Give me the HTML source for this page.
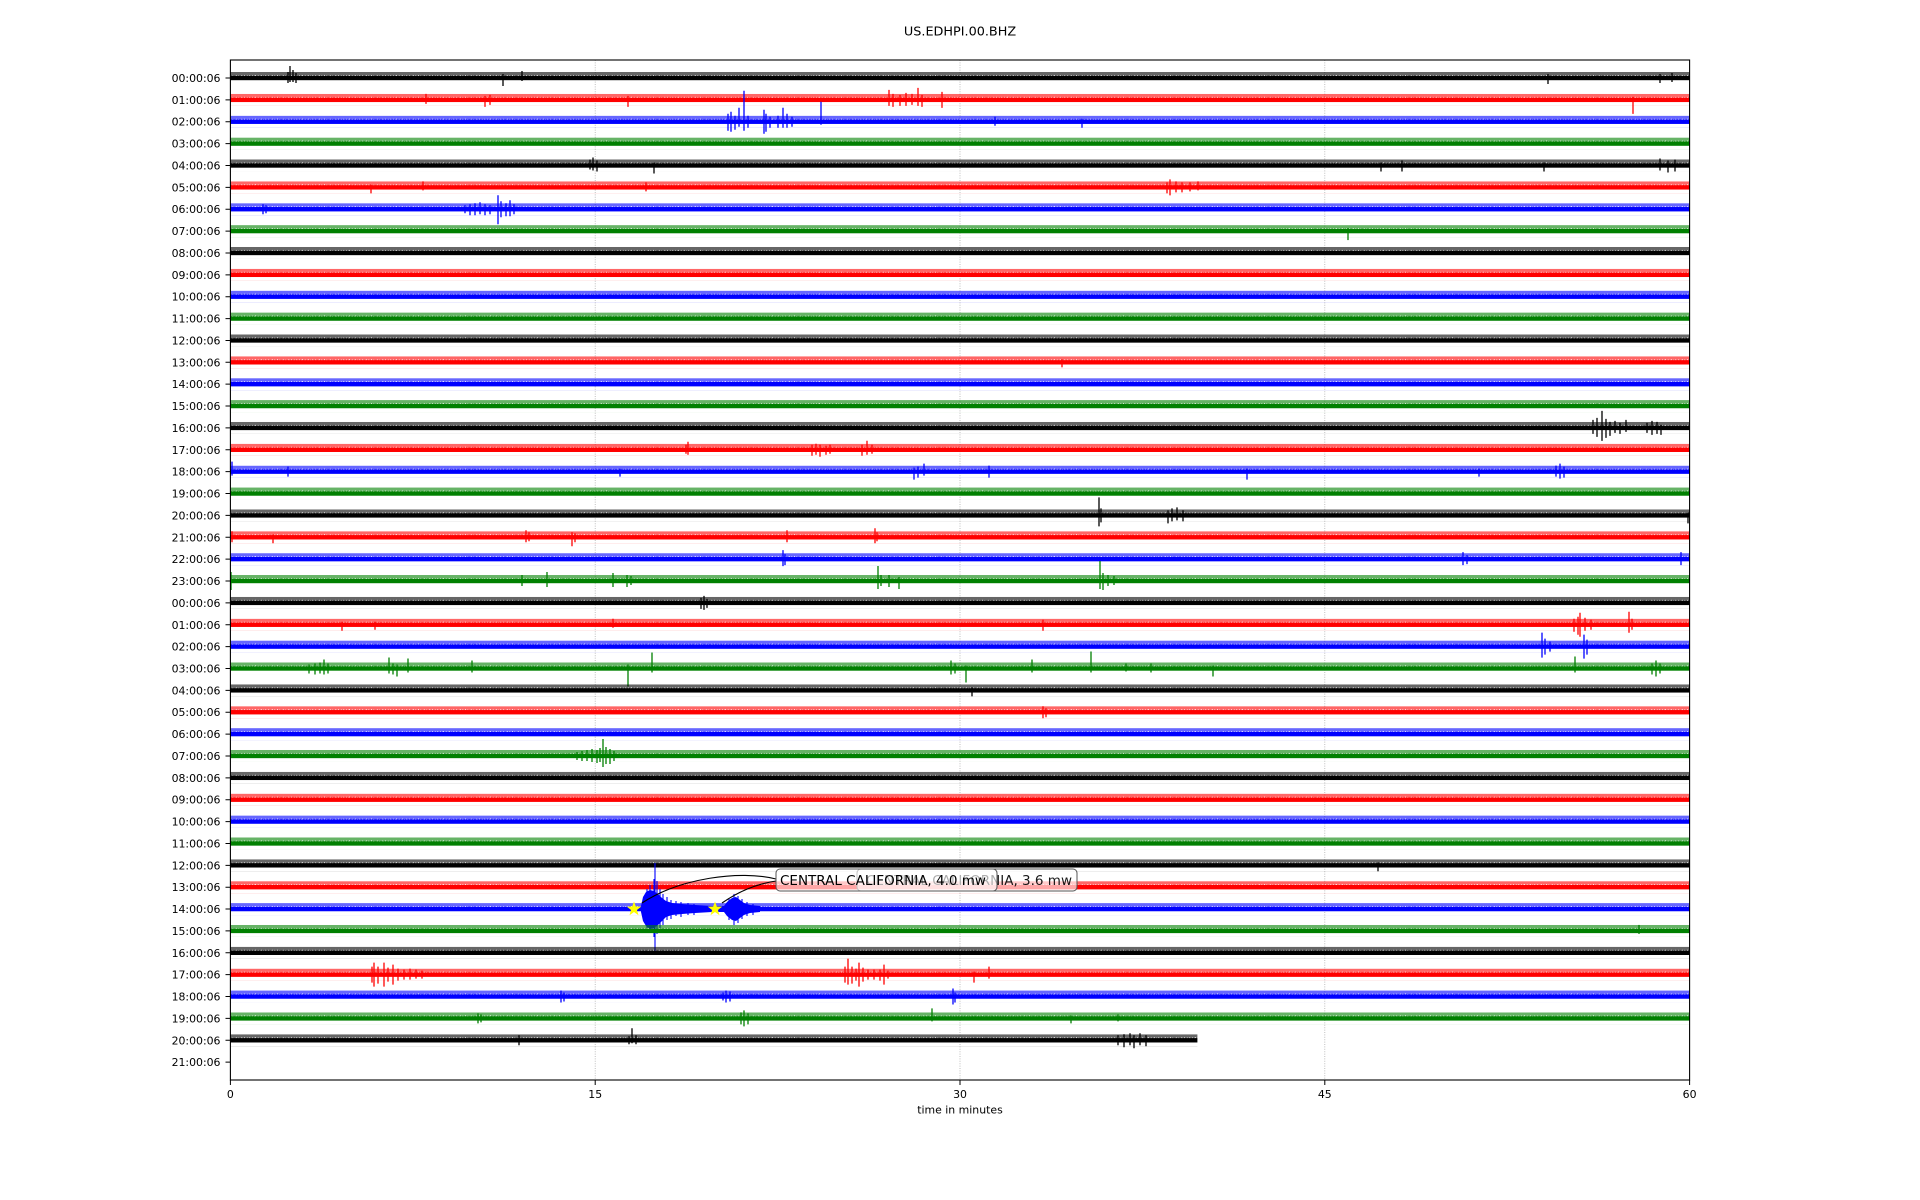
<!DOCTYPE html>
<html><head><meta charset="utf-8"><style>
html,body{margin:0;padding:0;background:#fff;}
svg{display:block;}
text{font-family:"DejaVu Sans","Liberation Sans",sans-serif;fill:#000;}
</style></head><body>
<svg width="1920" height="1200" viewBox="0 0 1920 1200" xmlns="http://www.w3.org/2000/svg">
<defs>
<g id="nz" fill="none" stroke-width="1" stroke-opacity="0.6"><path d="M0.5 -3.5V3.8M1.5 -4.2V3.2M2.5 -3.1V4.4M3.5 -4.8V3.5M4.5 -3.6V4M5.5 -3.3V4.7M6.5 -4.5V3.3M7.5 -3.9V3.6M8.5 -3.2V4.2M9.5 -5V3.1M10.5 -3.7V4.5M11.5 -3.4V3.9M12.5 -4.1V3.4M13.5 -3V4.8M14.5 -4.6V3.2M15.5 -3.8V3.7M16.5 -3.5V4.1M17.5 -4.3V3.3M18.5 -3.1V4.6M19.5 -3.9V3.5M20.5 -4.7V3M21.5 -3.3V4.3M22.5 -3.6V3.8M23.5 -4V3.4M24.5 -3.2V4.9M25.5 -4.4V3.6M26.5 -3.8V3.1M27.5 -3V4.2M28.5 -4.9V3.5M29.5 -3.5V4M30.5 -3.7V3.3M31.5 -4.2V3.7M32.5 -3.4V4.5M33.5 -3.9V3.2M34.5 -4.5V3.9M35.5 -3.1V4.4M36.5 -3.6V3.6M37.5 -4V3.1M38.5 -3.3V4.7M39.5 -4.8V3.4M40.5 -3.5V3.8M41.5 -3.8V4.2M42.5 -4.1V3M43.5 -3.2V4.1M44.5 -4.6V3.5M45.5 -3.7V3.9M46.5 -3.4V4.3"/></g>
<pattern id="nk" patternUnits="userSpaceOnUse" x="0" y="-6" width="47" height="12"><use href="#nz" stroke="#000"/></pattern>
<pattern id="nr" patternUnits="userSpaceOnUse" x="0" y="-6" width="47" height="12"><use href="#nz" stroke="#ff0000"/></pattern>
<pattern id="nb" patternUnits="userSpaceOnUse" x="0" y="-6" width="47" height="12"><use href="#nz" stroke="#0000ff"/></pattern>
<pattern id="ng" patternUnits="userSpaceOnUse" x="0" y="-6" width="47" height="12"><use href="#nz" stroke="#008000"/></pattern>
<g id="tk"><rect x="230.4" y="-2.2" width="1459.2" height="4.4" fill="#000"/><rect x="230.4" y="-6" width="1459.2" height="12" fill="url(#nk)"/></g>
<g id="tr"><rect x="230.4" y="-2.2" width="1459.2" height="4.4" fill="#ff0000"/><rect x="230.4" y="-6" width="1459.2" height="12" fill="url(#nr)"/></g>
<g id="tb"><rect x="230.4" y="-2.2" width="1459.2" height="4.4" fill="#0000ff"/><rect x="230.4" y="-6" width="1459.2" height="12" fill="url(#nb)"/></g>
<g id="tg"><rect x="230.4" y="-2.2" width="1459.2" height="4.4" fill="#008000"/><rect x="230.4" y="-6" width="1459.2" height="12" fill="url(#ng)"/></g>
<path id="star" d="M0 -9L2.12 -2.91L8.56 -2.78L3.42 1.11L5.29 7.28L0 3.6L-5.29 7.28L-3.42 1.11L-8.56 -2.78L-2.12 -2.91Z"/>
</defs>

<!-- title -->
<text x="960" y="35.3" font-size="12.8" text-anchor="middle">US.EDHPI.00.BHZ</text>

<!-- grid -->
<g stroke="#b0b0b0" stroke-width="0.8" stroke-dasharray="1 1.4">
<line x1="595.2" y1="60" x2="595.2" y2="1080"/>
<line x1="960" y1="60" x2="960" y2="1080"/>
<line x1="1324.8" y1="60" x2="1324.8" y2="1080"/>
</g>

<!-- traces -->
<g fill="none" stroke-width="1.3">
<g transform="translate(0,78)"><use href="#tk"/><path stroke="#000" d="M290 -12V4M288 -6V5M293 -8V4M296 -5V5M503 -4V8M522 -7V3M1548 -4V6M1660 -4V5M1672 -5V4"/></g>
<g transform="translate(0,99.87)"><use href="#tr"/><path stroke="#ff0000" d="M426 -6V4M485 -4V7M490 -5V5M628 -4V7M889 -10V6M893 -6V7M900 -5V6M906 -7V6M912 -6V5M918 -12V6M922 -5V7M942 -8V8M1633 -3V14"/></g>
<g transform="translate(0,121.74)"><use href="#tb"/><path stroke="#0000ff" d="M728 -8V9M731 -10V10M735 -6V8M739 -14V5M744 -31V9M748 -6V6M764 -12V12M766 -8V10M770 -5V6M778 -6V6M783 -14V6M787 -8V6M792 -5V5M821 -20V3M995 -5V4M1082 -3V6"/></g>
<g transform="translate(0,143.61)"><use href="#tg"/></g>
<g transform="translate(0,165.48)"><use href="#tk"/><path stroke="#000" d="M590 -6V4M593 -8V5M597 -5V6M654 -3V8M1381 -3V6M1402 -5V6M1544 -3V6M1660 -7V5M1668 -5V7M1675 -6V6"/></g>
<g transform="translate(0,187.35)"><use href="#tr"/><path stroke="#ff0000" d="M371 -3V6M423 -6V3M646 -5V4M1167 -5V6M1170 -8V8M1176 -6V5M1182 -5V5M1190 -5V4M1198 -6V3"/></g>
<g transform="translate(0,209.22)"><use href="#tb"/><path stroke="#0000ff" d="M263 -5V5M266 -4V4M465 -4V4M470 -5V6M475 -6V6M480 -7V5M485 -5V6M490 -4V5M498 -14V15M501 -8V8M506 -6V7M510 -9V7M514 -5V5"/></g>
<g transform="translate(0,231.09)"><use href="#tg"/><path stroke="#008000" d="M1348 -3V9"/></g>
<g transform="translate(0,252.96)"><use href="#tk"/></g>
<g transform="translate(0,274.83)"><use href="#tr"/></g>
<g transform="translate(0,296.70)"><use href="#tb"/></g>
<g transform="translate(0,318.57)"><use href="#tg"/></g>
<g transform="translate(0,340.44)"><use href="#tk"/></g>
<g transform="translate(0,362.31)"><use href="#tr"/><path stroke="#ff0000" d="M1062 -3V5"/></g>
<g transform="translate(0,384.18)"><use href="#tb"/></g>
<g transform="translate(0,406.05)"><use href="#tg"/></g>
<g transform="translate(0,427.92)"><use href="#tk"/><path stroke="#000" d="M1593 -8V6M1597 -10V9M1602 -17V13M1606 -9V10M1610 -6V8M1615 -7V5M1620 -5V6M1626 -8V4M1647 -5V5M1652 -7V7M1657 -6V6M1661 -3V7"/></g>
<g transform="translate(0,449.79)"><use href="#tr"/><path stroke="#ff0000" d="M686 -5V4M688 -8V5M812 -5V6M816 -6V5M820 -5V7M826 -4V5M830 -5V4M862 -5V6M867 -9V5M872 -5V4"/></g>
<g transform="translate(0,471.66)"><use href="#tb"/><path stroke="#0000ff" d="M232 -10V4M288 -5V5M620 -3V5M914 -4V8M918 -5V6M924 -8V4M989 -6V6M1247 -3V8M1479 -3V5M1556 -6V5M1560 -8V7M1564 -5V6"/></g>
<g transform="translate(0,493.53)"><use href="#tg"/></g>
<g transform="translate(0,515.40)"><use href="#tk"/><path stroke="#000" d="M1099 -18V11M1101 -7V7M1168 -5V8M1172 -7V6M1177 -8V5M1183 -5V6M1688 -3V8"/></g>
<g transform="translate(0,537.27)"><use href="#tr"/><path stroke="#ff0000" d="M232 -6V5M273 -3V6M526 -7V5M529 -5V4M572 -5V9M575 -4V5M787 -7V5M875 -9V6M877 -5V4"/></g>
<g transform="translate(0,559.14)"><use href="#tb"/><path stroke="#0000ff" d="M783 -9V7M785 -5V6M1463 -7V6M1467 -4V5M1681 -7V6"/></g>
<g transform="translate(0,581.01)"><use href="#tg"/><path stroke="#008000" d="M231 -9V9M522 -6V5M547 -9V6M613 -8V6M627 -6V6M631 -5V4M878 -15V8M881 -6V5M889 -6V6M899 -4V8M1100 -20V8M1103 -8V9M1108 -6V5M1114 -5V4"/></g>
<g transform="translate(0,602.88)"><use href="#tk"/><path stroke="#000" d="M701 -5V6M704 -7V7M707 -4V5"/></g>
<g transform="translate(0,624.75)"><use href="#tr"/><path stroke="#ff0000" d="M342 -3V6M375 -3V5M613 -6V3M1043 -5V6M1574 -6V7M1578 -8V10M1580 -12V12M1585 -7V6M1591 -5V5M1629 -13V8M1632 -6V5"/></g>
<g transform="translate(0,646.62)"><use href="#tb"/><path stroke="#0000ff" d="M1542 -14V11M1545 -8V8M1550 -5V5M1584 -12V12M1587 -7V8"/></g>
<g transform="translate(0,668.49)"><use href="#tg"/><path stroke="#008000" d="M309 -4V5M315 -5V6M320 -6V5M324 -9V6M328 -5V5M389 -11V5M393 -5V6M397 -4V8M408 -10V4M472 -8V4M628 -4V18M652 -16V4M951 -8V6M955 -5V5M966 -3V14M1032 -9V4M1091 -17V4M1126 -5V3M1151 -5V4M1213 -3V8M1575 -12V4M1652 -5V6M1656 -8V8M1660 -5V5"/></g>
<g transform="translate(0,690.36)"><use href="#tk"/><path stroke="#000" d="M972 -3V6"/></g>
<g transform="translate(0,712.23)"><use href="#tr"/><path stroke="#ff0000" d="M1043 -6V6M1046 -4V5"/></g>
<g transform="translate(0,734.10)"><use href="#tb"/></g>
<g transform="translate(0,755.97)"><use href="#tg"/><path stroke="#008000" d="M577 -4V4M582 -5V5M587 -6V5M592 -7V6M597 -6V7M600 -8V6M603 -17V11M606 -9V8M610 -7V8M614 -5V5"/></g>
<g transform="translate(0,777.84)"><use href="#tk"/></g>
<g transform="translate(0,799.71)"><use href="#tr"/></g>
<g transform="translate(0,821.58)"><use href="#tb"/></g>
<g transform="translate(0,843.45)"><use href="#tg"/></g>
<g transform="translate(0,865.32)"><use href="#tk"/><path stroke="#000" d="M1378 -3V6"/></g>
<g transform="translate(0,887.19)"><use href="#tr"/></g>
<g transform="translate(0,909.06)"><use href="#tb"/>
<polygon fill="#0000ff" stroke="none" points="641,-3 643,-12 646,-17 650,-19 654,-18 658,-15 662,-11 666,-8 672,-6 682,-5 695,-4 712,-3 724,-3 727,-7 732,-11 736,-12 740,-9 744,-6 750,-4 760,-3 760,3 750,4 744,6 740,9 736,12 732,11 727,7 724,3 712,3 695,4 682,5 672,6 666,8 662,12 658,16 654,19 650,20 646,17 643,12 641,3"/>
<path stroke="#0000ff" stroke-width="1.1" d="M655 -46V42M654 -30V28M657 -28V25M650 -24V22M647 -20V19M660 -20V19M663 -15V16M667 -12V11M671 -9V10M676 -8V7M681 -7V8M688 -6V6M694 -5V6M734 -15V16M738 -13V14M729 -10V11M742 -10V10M747 -7V7M753 -5V6"/></g>
<g transform="translate(0,930.93)"><use href="#tg"/><path stroke="#008000" d="M1639 -6V3"/></g>
<g transform="translate(0,952.80)"><use href="#tk"/></g>
<g transform="translate(0,974.67)"><use href="#tr"/><path stroke="#ff0000" d="M372 -8V8M374 -12V12M378 -8V9M384 -12V12M388 -7V7M393 -10V10M398 -6V6M404 -5V5M410 -6V5M416 -5V4M422 -4V4M845 -8V8M848 -16V10M852 -8V9M856 -6V6M859 -12V12M863 -7V7M868 -5V5M874 -5V5M880 -5V6M884 -10V10M888 -4V4M974 -3V8M989 -8V4"/></g>
<g transform="translate(0,996.54)"><use href="#tb"/><path stroke="#0000ff" d="M561 -6V6M564 -4V5M723 -4V4M726 -6V6M730 -5V5M953 -8V8M955 -4V6"/></g>
<g transform="translate(0,1018.41)"><use href="#tg"/><path stroke="#008000" d="M478 -5V5M481 -4V4M741 -6V6M744 -8V8M748 -5V6M932 -10V3M1071 -3V5M1118 -4V3"/></g>
<g transform="translate(0,1040.28)">
<rect x="230.4" y="-2.2" width="967" height="4.4" fill="#000"/><rect x="230.4" y="-6" width="967" height="12" fill="url(#nk)"/>
<path stroke="#000" d="M519 -5V5M632 -12V3M629 -4V4M636 -5V4M1118 -5V5M1124 -6V7M1130 -7V5M1134 -5V8M1140 -7V5M1146 -5V6"/></g>
</g>

<!-- stars -->
<use href="#star" transform="translate(634,909) scale(0.85)" fill="#ffff00"/>
<use href="#star" transform="translate(715,909) scale(0.85)" fill="#ffff00"/>

<!-- annotation arrows -->
<g fill="none" stroke="#000" stroke-width="1.1">
<path d="M642 903 C680 878 740 870 776 879"/>
<path d="M722 903 Q748 885 776 881"/>
</g>

<!-- annotation boxes -->
<rect x="857" y="869" width="220" height="22" rx="4" fill="#fff" fill-opacity="0.65" stroke="#555" stroke-width="1"/>
<text x="1072" y="885" font-size="13.5" text-anchor="end" fill-opacity="0.9">CENTRAL CALIFORNIA, 3.6 mw</text>
<rect x="776" y="869" width="221" height="22" rx="4" fill="#fff" fill-opacity="0.65" stroke="#555" stroke-width="1"/>
<text x="780" y="885" font-size="13.5">CENTRAL CALIFORNIA, 4.0 mw</text>

<!-- axes frame -->
<rect x="230.4" y="60" width="1459.2" height="1020" fill="none" stroke="#000" stroke-width="1.1"/>

<!-- ticks -->
<g stroke="#000" stroke-width="1">
<path d="M225.5 78H230.4M225.5 99.87H230.4M225.5 121.74H230.4M225.5 143.61H230.4M225.5 165.48H230.4M225.5 187.35H230.4M225.5 209.22H230.4M225.5 231.09H230.4M225.5 252.96H230.4M225.5 274.83H230.4M225.5 296.7H230.4M225.5 318.57H230.4M225.5 340.44H230.4M225.5 362.31H230.4M225.5 384.18H230.4M225.5 406.05H230.4M225.5 427.92H230.4M225.5 449.79H230.4M225.5 471.66H230.4M225.5 493.53H230.4M225.5 515.4H230.4M225.5 537.27H230.4M225.5 559.14H230.4M225.5 581.01H230.4M225.5 602.88H230.4M225.5 624.75H230.4M225.5 646.62H230.4M225.5 668.49H230.4M225.5 690.36H230.4M225.5 712.23H230.4M225.5 734.1H230.4M225.5 755.97H230.4M225.5 777.84H230.4M225.5 799.71H230.4M225.5 821.58H230.4M225.5 843.45H230.4M225.5 865.32H230.4M225.5 887.19H230.4M225.5 909.06H230.4M225.5 930.93H230.4M225.5 952.8H230.4M225.5 974.67H230.4M225.5 996.54H230.4M225.5 1018.41H230.4M225.5 1040.28H230.4M225.5 1062.15H230.4"/>
<path d="M230.4 1080V1085M595.2 1080V1085M960 1080V1085M1324.8 1080V1085M1689.6 1080V1085"/>
</g>

<g font-size="10.9" text-anchor="end">
<text x="220.5" y="82">00:00:06</text>
<text x="220.5" y="103.87">01:00:06</text>
<text x="220.5" y="125.74">02:00:06</text>
<text x="220.5" y="147.61">03:00:06</text>
<text x="220.5" y="169.48">04:00:06</text>
<text x="220.5" y="191.35">05:00:06</text>
<text x="220.5" y="213.22">06:00:06</text>
<text x="220.5" y="235.09">07:00:06</text>
<text x="220.5" y="256.96">08:00:06</text>
<text x="220.5" y="278.83">09:00:06</text>
<text x="220.5" y="300.7">10:00:06</text>
<text x="220.5" y="322.57">11:00:06</text>
<text x="220.5" y="344.44">12:00:06</text>
<text x="220.5" y="366.31">13:00:06</text>
<text x="220.5" y="388.18">14:00:06</text>
<text x="220.5" y="410.05">15:00:06</text>
<text x="220.5" y="431.92">16:00:06</text>
<text x="220.5" y="453.79">17:00:06</text>
<text x="220.5" y="475.66">18:00:06</text>
<text x="220.5" y="497.53">19:00:06</text>
<text x="220.5" y="519.4">20:00:06</text>
<text x="220.5" y="541.27">21:00:06</text>
<text x="220.5" y="563.14">22:00:06</text>
<text x="220.5" y="585.01">23:00:06</text>
<text x="220.5" y="606.88">00:00:06</text>
<text x="220.5" y="628.75">01:00:06</text>
<text x="220.5" y="650.62">02:00:06</text>
<text x="220.5" y="672.49">03:00:06</text>
<text x="220.5" y="694.36">04:00:06</text>
<text x="220.5" y="716.23">05:00:06</text>
<text x="220.5" y="738.1">06:00:06</text>
<text x="220.5" y="759.97">07:00:06</text>
<text x="220.5" y="781.84">08:00:06</text>
<text x="220.5" y="803.71">09:00:06</text>
<text x="220.5" y="825.58">10:00:06</text>
<text x="220.5" y="847.45">11:00:06</text>
<text x="220.5" y="869.32">12:00:06</text>
<text x="220.5" y="891.19">13:00:06</text>
<text x="220.5" y="913.06">14:00:06</text>
<text x="220.5" y="934.93">15:00:06</text>
<text x="220.5" y="956.8">16:00:06</text>
<text x="220.5" y="978.67">17:00:06</text>
<text x="220.5" y="1000.54">18:00:06</text>
<text x="220.5" y="1022.41">19:00:06</text>
<text x="220.5" y="1044.28">20:00:06</text>
<text x="220.5" y="1066.15">21:00:06</text>
</g>

<g font-size="10.9" text-anchor="middle">
<text x="230.4" y="1098">0</text>
<text x="595.2" y="1098">15</text>
<text x="960" y="1098">30</text>
<text x="1324.8" y="1098">45</text>
<text x="1689.6" y="1098">60</text>
<text x="960" y="1113.5">time in minutes</text>
</g>
</svg>
</body></html>
